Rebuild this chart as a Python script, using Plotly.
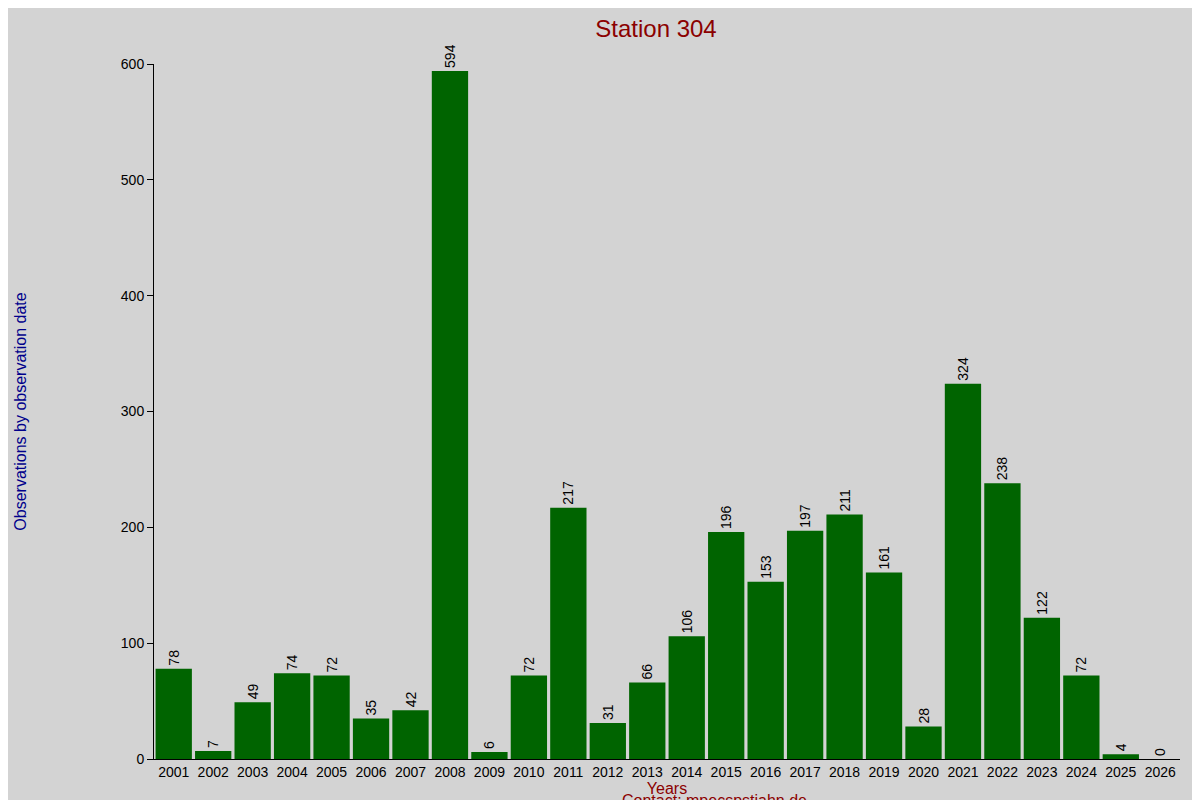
import plotly.graph_objects as go

years = [str(y) for y in range(2001, 2027)]
counts = [78, 7, 49, 74, 72, 35, 42, 594, 6, 72, 217, 31, 66, 106, 196, 153,
          197, 211, 161, 28, 324, 238, 122, 72, 4, 0]

fig = go.Figure()
fig.add_trace(go.Bar(
    x=years, y=counts, marker_color="#006400", marker_line_width=0,
    text=[str(c) for c in counts], textposition="outside", textangle=-90,
    textfont=dict(size=14, color="black"), cliponaxis=False,
))
fig.update_layout(
    width=1200, height=800,
    paper_bgcolor="#d3d3d3", plot_bgcolor="#d3d3d3",
    font=dict(family="Liberation Sans, Arial", size=14, color="black"),
    title=dict(text="Station 304", x=0.54, y=0.985, xanchor="center",
               font=dict(size=24, color="#8b0000")),
    margin=dict(l=126, r=28, t=56, b=49),
    bargap=0.08, showlegend=False,
    xaxis=dict(showline=True, linecolor="black", ticks="", showgrid=False,
               title=dict(text="Years", font=dict(color="#8b0000", size=16), standoff=4)),
    yaxis=dict(range=[0, 600], showline=True, linecolor="black", ticks="outside",
               ticklen=6, tickcolor="black", dtick=100, showgrid=False, zeroline=False,
               title=dict(text="Observations by observation date",
                          font=dict(color="#00008b", size=16), standoff=90)),
)
fig.add_annotation(text="Contact: mpecspstjahn.de", xref="paper", yref="paper",
                   x=0.546, y=-0.045, xanchor="center", yanchor="top", showarrow=False,
                   font=dict(color="#8b0000", size=16))
fig.update_xaxes(title_standoff=4)
fig.layout.xaxis.title.text = "Years"
fig.write_html("out.html")
